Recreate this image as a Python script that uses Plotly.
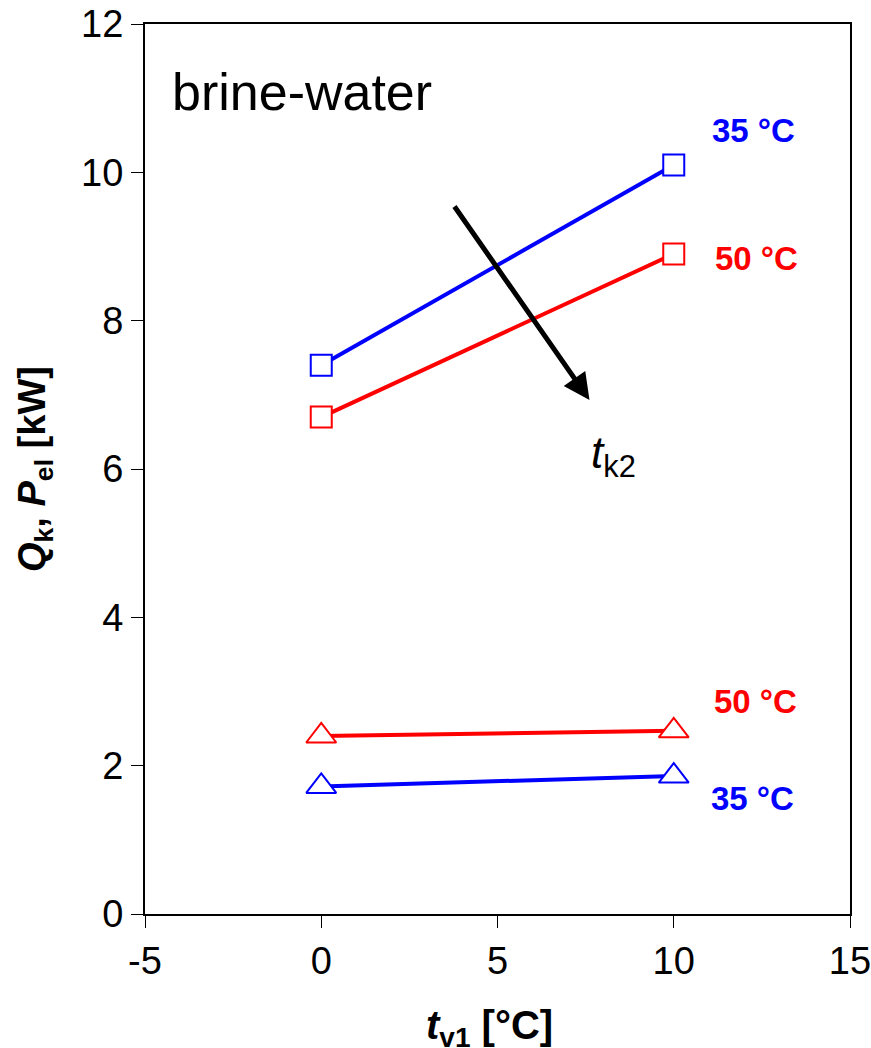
import plotly.graph_objects as go

# Evaporator inlet temperature t_v1 [°C]
t_v1 = [0, 10]

# Heating capacity Q_k [kW] for condenser outlet temperatures
q_k_35 = [7.4, 10.1]
q_k_50 = [6.7, 8.9]

# Electrical power P_el [kW]
p_el_50 = [2.40, 2.47]
p_el_35 = [1.72, 1.86]

x_ticks = [-5, 0, 5, 10, 15]
y_ticks = [0, 2, 4, 6, 8, 10, 12]

BLUE = "#0000FF"
RED = "#FF0000"
FONT = "Liberation Sans, Arial, sans-serif"

fig = go.Figure()

series = [
    (q_k_35, BLUE, "square", 21),
    (q_k_50, RED, "square", 21),
    (p_el_50, RED, "triangle-up", 26),
    (p_el_35, BLUE, "triangle-up", 26),
]
for values, color, symbol, msize in series:
    fig.add_trace(go.Scatter(
        x=t_v1, y=values, mode="lines+markers",
        line=dict(color=color, width=4),
        marker=dict(symbol=symbol, size=msize, color="white",
                    line=dict(color=color, width=2)),
        showlegend=False,
        cliponaxis=False,
    ))

annotations = [
    dict(x=12.26, y=10.57, text="<b>35 °C</b>", font=dict(color=BLUE, size=33)),
    dict(x=12.34, y=8.84, text="<b>50 °C</b>", font=dict(color=RED, size=33)),
    dict(x=12.31, y=2.86, text="<b>50 °C</b>", font=dict(color=RED, size=33)),
    dict(x=12.23, y=1.56, text="<b>35 °C</b>", font=dict(color=BLUE, size=33)),
    dict(x=8.28, y=6.18, text="<i>t</i><sub>k2</sub>", font=dict(color="black", size=44)),
]
for a in annotations:
    fig.add_annotation(xref="x", yref="y", showarrow=False,
                       xanchor="center", yanchor="middle",
                       font_family=FONT, **a)

# Direction of increasing t_k2
fig.add_annotation(
    x=7.61, y=6.93, ax=3.75, ay=9.56, xref="x", yref="y", axref="x", ayref="y",
    text="", showarrow=True, arrowhead=2, arrowsize=1.05, arrowwidth=5,
    arrowcolor="black", standoff=0, startstandoff=0,
)

fig.add_annotation(
    xref="paper", yref="paper", x=0.035, y=0.924, xanchor="left", yanchor="middle",
    text="brine-water", showarrow=False,
    font=dict(family=FONT, size=52, color="black"),
)

# Axis titles
fig.add_annotation(
    xref="paper", yref="paper", x=0, y=0.5, xshift=-110, xanchor="center", yanchor="middle",
    textangle=-90, showarrow=False,
    text="<b><i>Q</i><sub>k</sub>, <i>P</i><sub>el</sub> [kW]</b>",
    font=dict(family=FONT, size=38, color="black"),
)
fig.add_annotation(
    xref="paper", yref="paper", x=0.488, y=0, yshift=-114, xanchor="center", yanchor="middle",
    showarrow=False,
    text="<b><i>t</i></b><sub><b>v1</b></sub><b> [°C]</b>",
    font=dict(family=FONT, size=40, color="black"),
)

axis_common = dict(
    showgrid=False, zeroline=False, showline=True, linecolor="black", linewidth=2,
    mirror=True, ticks="outside", ticklen=12, tickwidth=1, tickcolor="black",
    tickfont=dict(family=FONT, size=38, color="black"),
    automargin=False, ticklabeloverflow="allow",
)
fig.update_xaxes(range=[-5, 15], tickvals=x_ticks, ticktext=[str(v) for v in x_ticks],
                 **axis_common)
fig.update_yaxes(range=[0, 12], tickvals=y_ticks, ticktext=[str(v) for v in y_ticks],
                 **axis_common)

fig.update_layout(
    width=871, height=1048,
    margin=dict(l=145, r=21, t=24, b=134, pad=0, autoexpand=False),
    paper_bgcolor="white", plot_bgcolor="white",
)

fig.write_html("out.html")
